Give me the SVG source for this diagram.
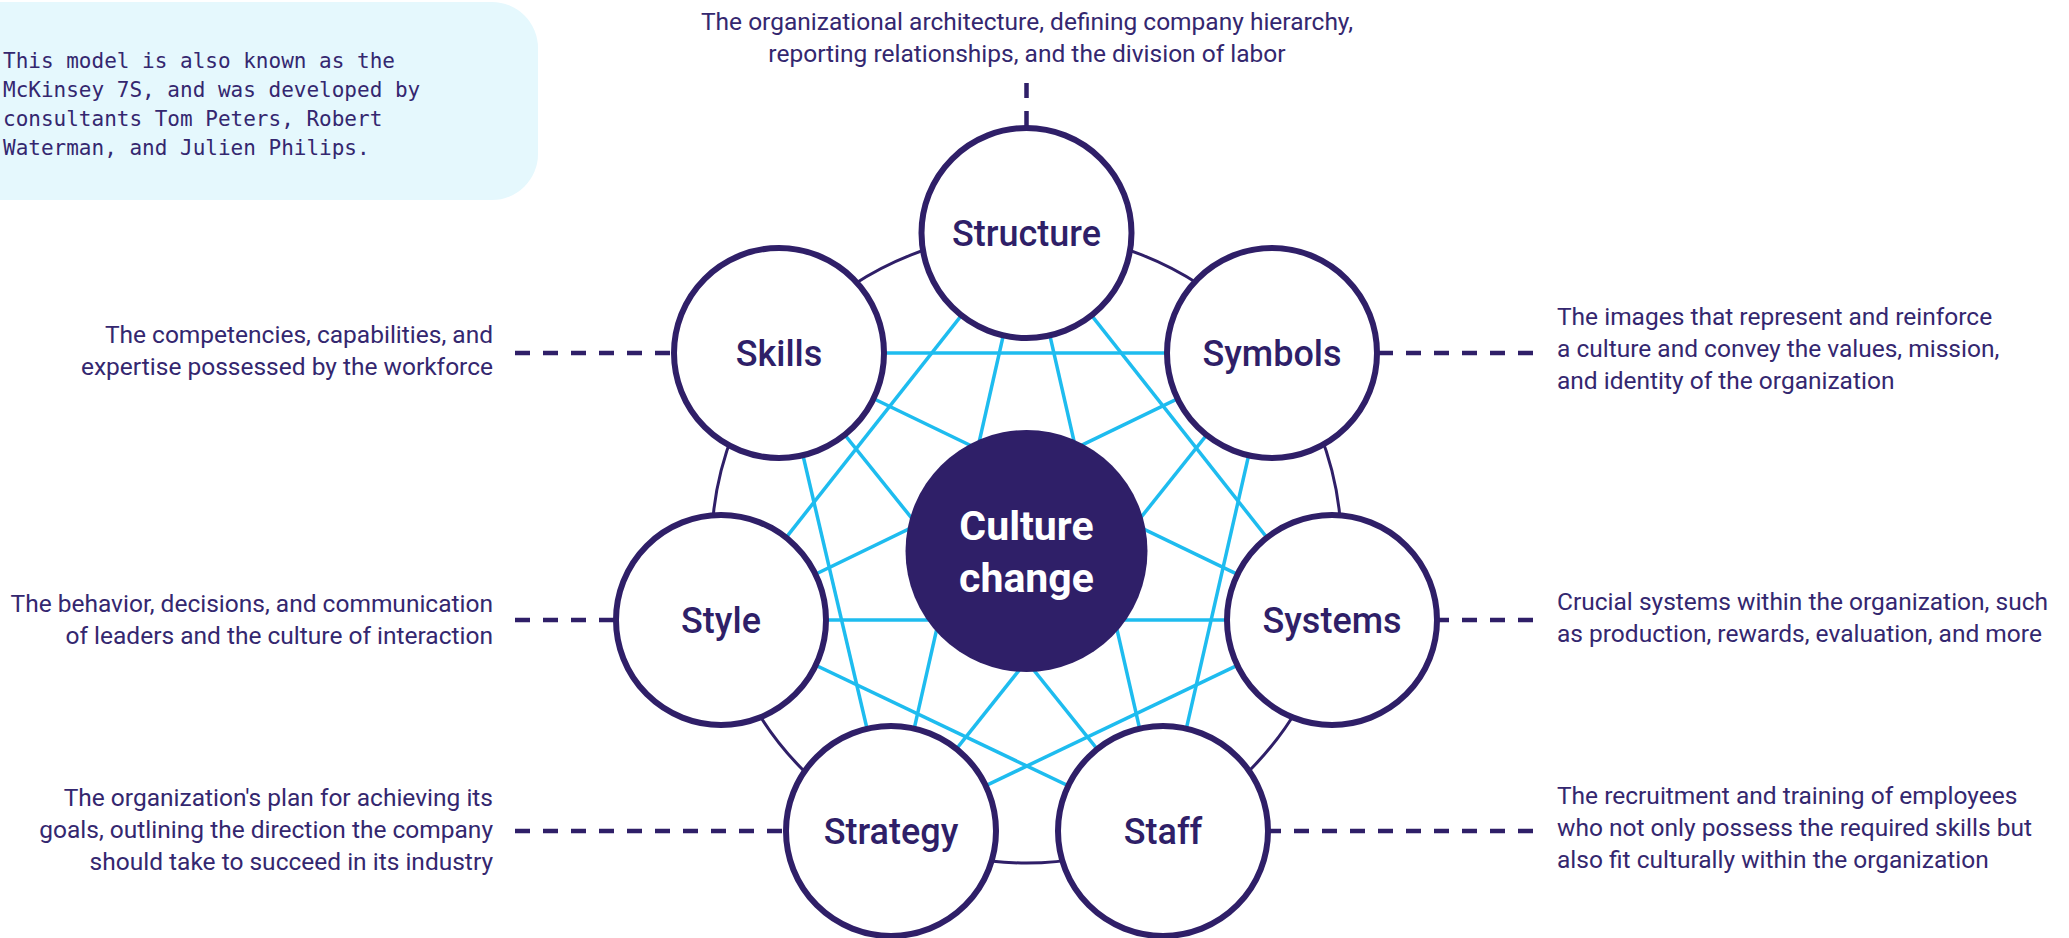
<svg xmlns="http://www.w3.org/2000/svg" width="2069" height="938" viewBox="0 0 2069 938">
  <style>
    .desc { font-family: Roboto, "Noto Sans", "Liberation Sans", sans-serif; font-size: 24.5px; fill: #34276f; }
    .right { text-anchor: end; }
    .mid { text-anchor: middle; }
    .note { font-family: "DejaVu Sans Mono", "Liberation Mono", monospace; font-size: 21px; fill: #34276f; }
    .node { fill: #ffffff; stroke: #2f1f68; stroke-width: 6; }
    .label { font-family: Roboto, "Noto Sans", "Liberation Sans", sans-serif; font-size: 36px; font-weight: 500; fill: #2f1f68; text-anchor: middle; }
    .core { fill: #2f1f68; }
    .core-label { font-family: Roboto, "Noto Sans", "Liberation Sans", sans-serif; font-size: 41px; font-weight: 700; fill: #ffffff; text-anchor: middle; }
    .diag { stroke: #1ebcef; stroke-width: 3.5; fill: none; }
    .ring { stroke: #2f1f68; stroke-width: 3; fill: none; }
    .dash { stroke: #2f1f68; stroke-width: 4.5; stroke-dasharray: 15 13; fill: none; }
  </style>

  <!-- note box -->
  <g id="note">
    <rect x="-60" y="2" width="598" height="198" rx="46" fill="#e5f8fd"/>
    <text class="note" x="3" y="68">This model is also known as the</text>
    <text class="note" x="3" y="97">McKinsey 7S, and was developed by</text>
    <text class="note" x="3" y="126">consultants Tom Peters, Robert</text>
    <text class="note" x="3" y="155">Waterman, and Julien Philips.</text>
  </g>

  <!-- descriptions -->
  <g id="descriptions">
    <text class="desc mid" x="1027" y="30">The organizational architecture, defining company hierarchy,</text>
    <text class="desc mid" x="1027" y="62">reporting relationships, and the division of labor</text>

    <text class="desc right" x="493" y="343">The competencies, capabilities, and</text>
    <text class="desc right" x="493" y="375">expertise possessed by the workforce</text>

    <text class="desc right" x="493" y="612">The behavior, decisions, and communication</text>
    <text class="desc right" x="493" y="644">of leaders and the culture of interaction</text>

    <text class="desc right" x="493" y="806">The organization's plan for achieving its</text>
    <text class="desc right" x="493" y="838">goals, outlining the direction the company</text>
    <text class="desc right" x="493" y="870">should take to succeed in its industry</text>

    <text class="desc" x="1557" y="325">The images that represent and reinforce</text>
    <text class="desc" x="1557" y="357">a culture and convey the values, mission,</text>
    <text class="desc" x="1557" y="389">and identity of the organization</text>

    <text class="desc" x="1557" y="610">Crucial systems within the organization, such</text>
    <text class="desc" x="1557" y="642">as production, rewards, evaluation, and more</text>

    <text class="desc" x="1557" y="804">The recruitment and training of employees</text>
    <text class="desc" x="1557" y="836">who not only possess the required skills but</text>
    <text class="desc" x="1557" y="868">also fit culturally within the organization</text>
  </g>

  <!-- connectors -->
  <g id="connectors">
    <!-- diagonals between non-adjacent elements -->
    <line class="diag" x1="1026.5" y1="233" x2="721" y2="620"/>
    <line class="diag" x1="1026.5" y1="233" x2="891" y2="831"/>
    <line class="diag" x1="1026.5" y1="233" x2="1163" y2="831"/>
    <line class="diag" x1="1026.5" y1="233" x2="1332" y2="620"/>
    <line class="diag" x1="1272" y1="353" x2="779" y2="353"/>
    <line class="diag" x1="1272" y1="353" x2="721" y2="620"/>
    <line class="diag" x1="1272" y1="353" x2="891" y2="831"/>
    <line class="diag" x1="1272" y1="353" x2="1163" y2="831"/>
    <line class="diag" x1="1332" y1="620" x2="891" y2="831"/>
    <line class="diag" x1="1332" y1="620" x2="721" y2="620"/>
    <line class="diag" x1="1332" y1="620" x2="779" y2="353"/>
    <line class="diag" x1="1163" y1="831" x2="721" y2="620"/>
    <line class="diag" x1="1163" y1="831" x2="779" y2="353"/>
    <line class="diag" x1="891" y1="831" x2="779" y2="353"/>

    <!-- outer ring linking neighbours -->
    <circle class="ring" cx="1026.5" cy="548" r="315"/>

    <!-- leader lines to descriptions -->
    <line class="dash" x1="1026.5" y1="83" x2="1026.5" y2="130"/>
    <line class="dash" x1="515" y1="353" x2="676" y2="353"/>
    <line class="dash" x1="515" y1="620" x2="618" y2="620"/>
    <line class="dash" x1="515" y1="831" x2="788" y2="831"/>
    <line class="dash" x1="1533" y1="353" x2="1375" y2="353"/>
    <line class="dash" x1="1533" y1="620" x2="1435" y2="620"/>
    <line class="dash" x1="1533" y1="831" x2="1266" y2="831"/>
  </g>

  <!-- elements -->
  <g id="structure">
    <circle class="node" cx="1026.5" cy="233" r="105"/>
    <text class="label" x="1026.5" y="246">Structure</text>
  </g>
  <g id="skills">
    <circle class="node" cx="779" cy="353" r="105"/>
    <text class="label" x="779" y="366">Skills</text>
  </g>
  <g id="symbols">
    <circle class="node" cx="1272" cy="353" r="105"/>
    <text class="label" x="1272" y="366">Symbols</text>
  </g>
  <g id="style">
    <circle class="node" cx="721" cy="620" r="105"/>
    <text class="label" x="721" y="633">Style</text>
  </g>
  <g id="systems">
    <circle class="node" cx="1332" cy="620" r="105"/>
    <text class="label" x="1332" y="633">Systems</text>
  </g>
  <g id="strategy">
    <circle class="node" cx="891" cy="831" r="105"/>
    <text class="label" x="891" y="844">Strategy</text>
  </g>
  <g id="staff">
    <circle class="node" cx="1163" cy="831" r="105"/>
    <text class="label" x="1163" y="844">Staff</text>
  </g>

  <g id="culture-change">
    <circle class="core" cx="1026.5" cy="551" r="121"/>
    <text class="core-label" x="1026.5" y="540">Culture</text>
    <text class="core-label" x="1026.5" y="592">change</text>
  </g>
</svg>
